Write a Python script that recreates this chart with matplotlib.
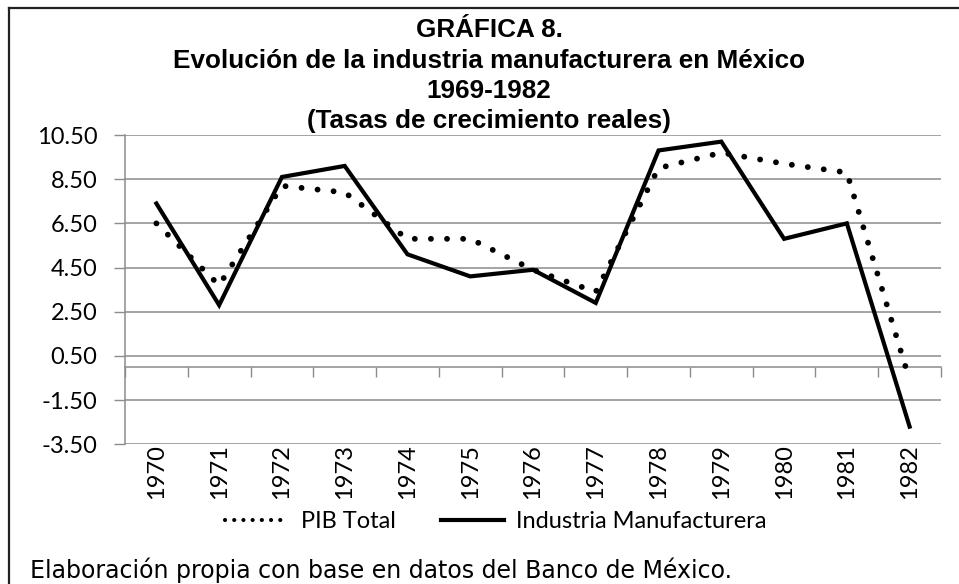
import numpy as np
import matplotlib.pyplot as plt
from matplotlib.lines import Line2D

years = ["1970", "1971", "1972", "1973", "1974", "1975", "1976",
         "1977", "1978", "1979", "1980", "1981", "1982"]
pib_total = [6.5, 3.7, 8.2, 7.9, 5.8, 5.8, 4.4, 3.4, 9.0, 9.7, 9.2, 8.8, -0.6]
industria = [7.4, 2.8, 8.6, 9.1, 5.1, 4.1, 4.4, 2.9, 9.8, 10.2, 5.8, 6.5, -2.7]
yticks = [-3.5, -1.5, 0.5, 2.5, 4.5, 6.5, 8.5, 10.5]

title_lines = ["GRÁFICA 8.",
               "Evolución de la industria manufacturera en México",
               "1969-1982",
               "(Tasas de crecimiento reales)"]
nota = "Elaboración propia con base en datos del Banco de México."

W, H = 959, 584
fig = plt.figure(figsize=(W / 100, H / 100), dpi=100)
fig.patch.set_facecolor("white")
ax = fig.add_axes([125 / W, 1 - 444.3 / H, (941 - 125) / W, (444.3 - 135) / H])

grey = "#8c8c8c"
tick_font = "Lato"
fs = 17
x = np.arange(len(years))

ax.plot(x, pib_total, color="black", lw=4.2, linestyle=(0, (0.01, 2.75)),
        dash_capstyle="round", solid_capstyle="round", label="PIB Total")
ax.plot(x, industria, color="black", lw=3.0, label="Industria Manufacturera",
        solid_joinstyle="miter")

ax.set_xlim(-0.5, len(years) - 0.5)
ax.set_ylim(-3.5, 10.5)
ax.set_yticks(yticks)
ax.set_yticklabels([f"{v:.2f}" for v in yticks], fontfamily=tick_font, fontsize=fs)
ax.yaxis.grid(True, color=grey, lw=1.1)
ax.set_axisbelow(True)
ax.tick_params(axis="y", length=8, width=1, color=grey, pad=12, labelcolor="black")

ax.set_xticks(x)
ax.set_xticklabels(years, rotation=90, fontfamily=tick_font, fontsize=fs)
ax.tick_params(axis="x", length=0, pad=0)

for s in ["top", "right", "bottom"]:
    ax.spines[s].set_visible(False)
ax.spines["left"].set_color(grey)
ax.spines["left"].set_linewidth(1.1)

# category axis crossing at zero, ticks between categories
sec = ax.secondary_xaxis((0 + 3.5) / 14)
sec.set_xticks(np.arange(-0.5, len(years), 1.0))
sec.set_xticklabels([])
sec.tick_params(axis="x", direction="out", length=7, width=1, color=grey)
sec.spines["bottom"].set_color(grey)
sec.spines["bottom"].set_linewidth(1.1)

# title
ys = [36.7, 68.3, 98.3, 128.3]
for line, yb in zip(title_lines, ys):
    fig.text(489 / W, 1 - yb / H, line, ha="center", va="baseline",
             fontfamily="Liberation Sans", fontweight="bold", fontsize=18.8)

leg = fig.legend(loc="center", bbox_to_anchor=(496 / W, 1 - 521.7 / H), ncol=2,
                 frameon=False, prop={"family": tick_font, "size": fs},
                 handlelength=2.7, columnspacing=1.9, handletextpad=0.5)
leg.get_lines()[0].set_linewidth(3.0)
leg.get_lines()[0].set_linestyle((0, (0.01, 2.2)))

fig.text(30 / W, 1 - 570 / H, nota, ha="left", va="center",
         fontfamily="DejaVu Sans", fontsize=17)

# outer frame
fig.add_artist(Line2D([9 / W, 1], [1 - 8 / H, 1 - 8 / H], color="#222222", lw=1.6))
fig.add_artist(Line2D([9 / W, 9 / W], [0, 1 - 8 / H], color="#222222", lw=1.6))

fig.savefig("out.png", dpi=100)
